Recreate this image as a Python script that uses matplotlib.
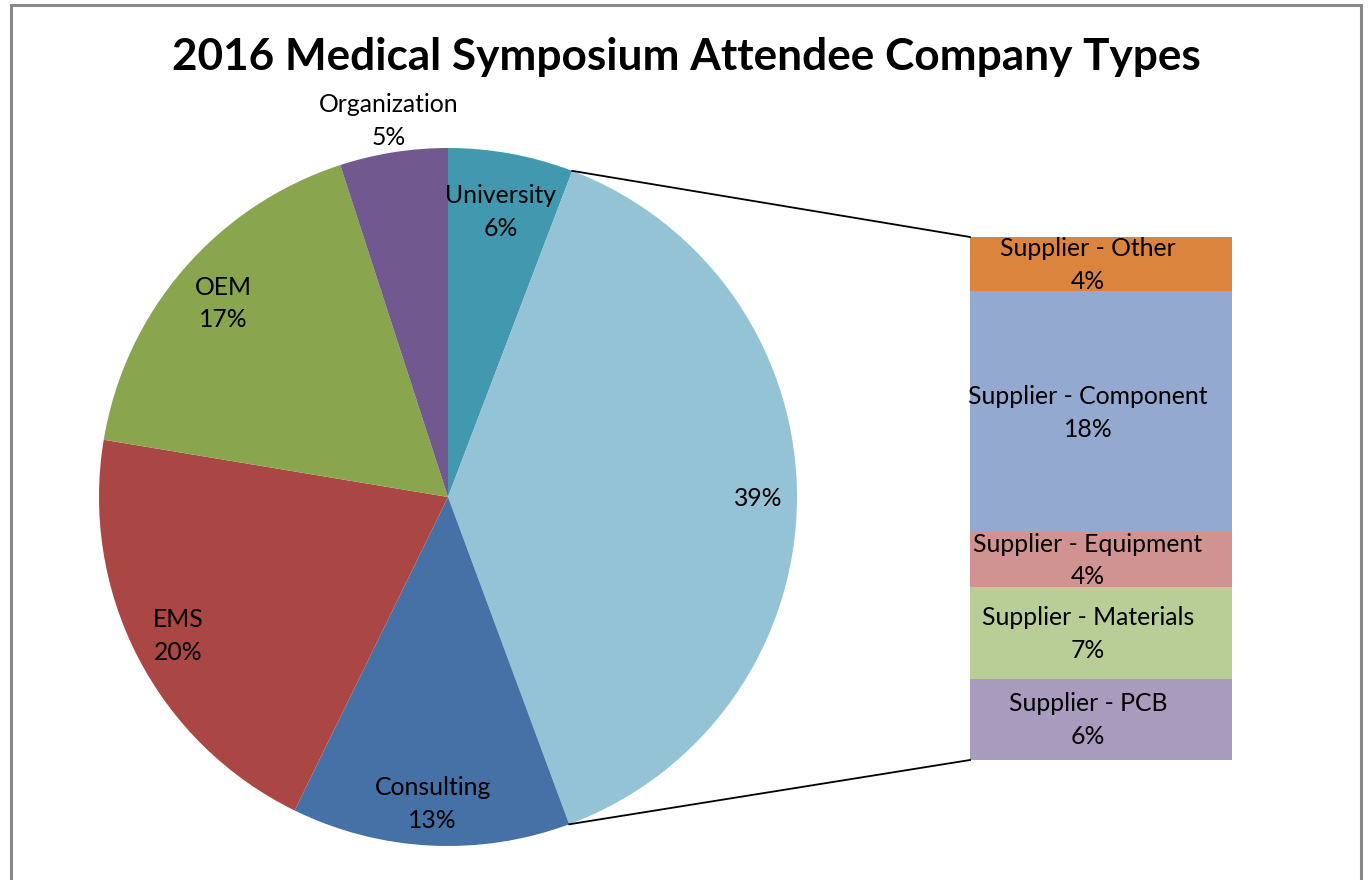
import numpy as np
import matplotlib
matplotlib.use("Agg")
import matplotlib.pyplot as plt

# pie slices (percent of attendees), clockwise from 12 o'clock
pie_names = ["University", "Supplier", "Consulting", "EMS", "OEM", "Organization"]
supplier_names = ["Supplier - Other", "Supplier - Component", "Supplier - Equipment",
                  "Supplier - Materials", "Supplier - PCB"]
supplier_vals = [4.0, 17.8, 4.0, 6.8, 6.0]
pie_vals = [5.8, sum(supplier_vals), 12.9, 20.4, 17.4, 5.0]

pie_colors = ["#4198AF", "#93C3D5", "#4571A7", "#AA4643", "#89A54E", "#71588F"]
bar_colors = ["#DB843D", "#93A9CF", "#D19392", "#B9CD96", "#A99BBD"]

title = "2016 Medical Symposium Attendee Company Types"

W, H = 1368, 880
plt.rcParams["font.family"] = ["Lato", "DejaVu Sans"]

fig = plt.figure(figsize=(W / 100, H / 100), dpi=100)
ax = fig.add_axes([0, 0, 1, 1])

# chart area border (bottom edge is cut off in the original)
ax.plot([11, 11, 1361, 1361], [0, H - 5, H - 5, 0], color="#888888", lw=2.2,
        solid_joinstyle="miter")

cx, cy, r = 448, H - 497, 349
wedges, _ = ax.pie(pie_vals, startangle=90, counterclock=False, colors=pie_colors,
                   center=(cx, cy), radius=r, frame=True,
                   wedgeprops=dict(linewidth=0))
ax.set_xlim(0, W)
ax.set_ylim(0, H)
ax.axis("off")

label_dist = [0.83, 0.89, 0.88, 0.87, 0.85, 1.09]
fs = 17.8
ls = 1.52
for w, name, v, d in zip(wedges, pie_names, pie_vals, label_dist):
    mid = np.deg2rad((w.theta1 + w.theta2) / 2)
    tx, ty = cx + d * r * np.cos(mid), cy + d * r * np.sin(mid)
    txt = f"{v:.0f}%" if name == "Supplier" else f"{name}\n{v:.0f}%"
    ax.text(tx, ty, txt, ha="center", va="center", fontsize=fs, linespacing=ls)

# stacked bar for the supplier breakdown
bar_x, bar_w = 1101, 262
bar_top, bar_bot = H - 237, H - 760
scale = (bar_top - bar_bot) / sum(supplier_vals)
bottom = bar_top
for name, v, c in zip(supplier_names, supplier_vals, bar_colors):
    h = v * scale
    bottom -= h
    ax.bar(bar_x, h, width=bar_w, bottom=bottom, color=c, linewidth=0)
    ax.text(1088, bottom + h / 2 - 1, f"{name}\n{v:.0f}%", ha="center", va="center",
            fontsize=fs, linespacing=ls)

# connector lines from the supplier slice to the bar
sup = wedges[1]
for ang, by in [(sup.theta2, bar_top), (sup.theta1, bar_bot)]:
    a = np.deg2rad(ang)
    ax.plot([cx + r * np.cos(a), bar_x - bar_w / 2], [cy + r * np.sin(a), by],
            color="black", lw=1.3)

ax.text(686, H - 57, title, ha="center", va="center", fontsize=31.8, fontweight="bold")

fig.savefig("out.png", dpi=100)
